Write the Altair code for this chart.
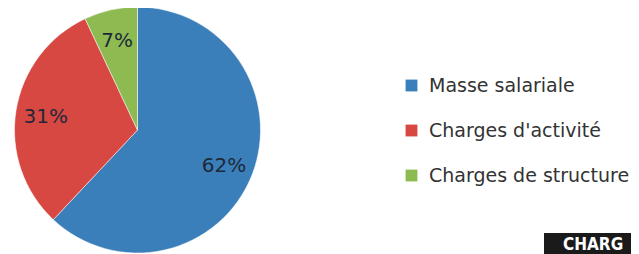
import altair as alt
import pandas as pd

categories = ["Masse salariale", "Charges d'activité", "Charges de structure"]
values = [62, 31, 7]
labels = ["62%", "31%", "7%"]
colors = ["#3a7fba", "#d74843", "#8dbb52"]
banner_text = ["CHARG"]

df = pd.DataFrame({"cat": categories, "val": values, "lab": labels, "ord": [0, 1, 2]})

cx, cy, r = 129.5, 122, 123

base = alt.Chart(df).encode(
    theta=alt.Theta("val:Q", stack=True),
    order=alt.Order("ord:Q"),
    x=alt.value(cx),
    y=alt.value(cy),
)

pie = base.mark_arc(outerRadius=r, stroke="#ffffff", strokeWidth=0.5).encode(
    color=alt.Color(
        "cat:N",
        scale=alt.Scale(domain=categories, range=colors),
        sort=categories,
        legend=alt.Legend(
            title=None,
            orient="none",
            legendX=394,
            legendY=68,
            symbolType="square",
            symbolSize=140,
            symbolStrokeWidth=0,
            labelFontSize=19,
            labelFont="DejaVu Sans",
            labelColor="#333333",
            rowPadding=25,
            labelOffset=8,
            labelLimit=400,
        ),
    )
)

text = base.mark_text(
    radius=93, fontSize=20, font="DejaVu Sans", color="#1e2838", dy=2
).encode(text="lab:N")

bdf = pd.DataFrame({"t": banner_text})
rect = alt.Chart(bdf).mark_rect(color="#1a1a1a").encode(
    x=alt.value(536), x2=alt.value(640), y=alt.value(225), y2=alt.value(260)
)
btext = alt.Chart(bdf).mark_text(
    align="left", baseline="alphabetic", fontSize=17, fontWeight="bold",
    font="DejaVu Sans Condensed", color="#ffffff"
).encode(x=alt.value(555), y=alt.value(242), text="t:N")

chart = alt.layer(pie, text, rect, btext).properties(
    width=623, height=246, padding=0, autosize=alt.AutoSizeParams(type="none")
).configure_view(stroke=None)

chart.save("out.html", embed_options={"renderer": "svg", "actions": False})
